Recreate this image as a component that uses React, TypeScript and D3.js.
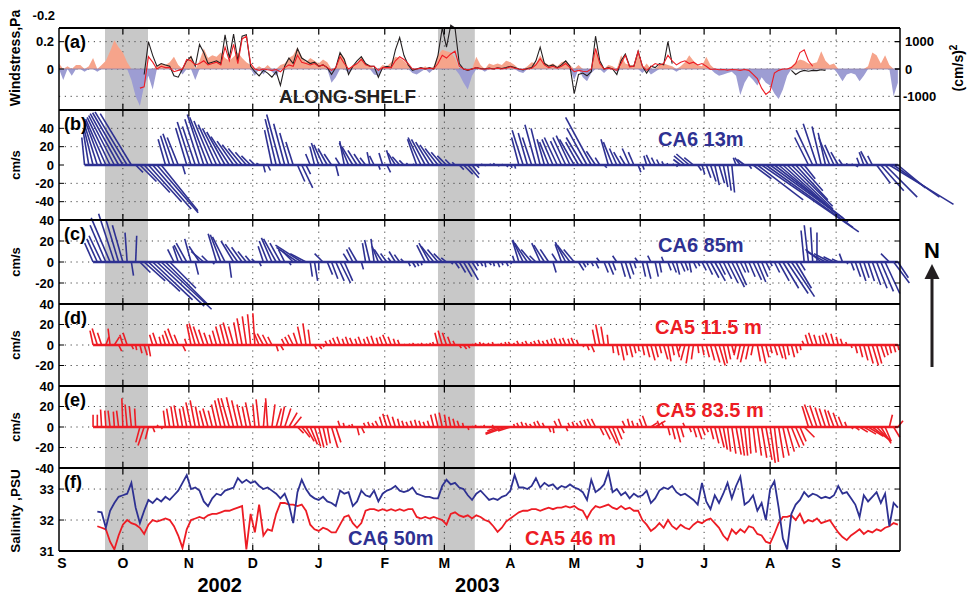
import React from 'react';
import * as d3 from 'd3';

// ---- data (days since 1 Sep 2002, sampled every 2 days) ----
const monthLabels = ['S', 'O', 'N', 'D', 'J', 'F', 'M', 'A', 'M', 'J', 'J', 'A', 'S'];
const yearLabels: [string, number][] = [['2002', 75.5], ['2003', 196.5]];
const shadeSpans: [number, number][] = [[21.6, 41.8], [178, 195.3]];

// (a) along-shelf wind stress, Pa (from day 0)
const windStress = [
  0.04, -0.08, 0.02, -0.05, 0.03, 0.03, -0.02, 0.02, 0.08, -0.02,
  0.03, 0.06, 0.13, 0.21, 0.16, 0.12, 0.05, -0.08, -0.2, -0.27,
  -0.12, -0.05, -0.15, 0.02, 0.04, 0.03, 0.05, 0.09, 0.03, -0.04,
  0.05, 0.1, -0.08, 0.06, 0.15, 0.08, 0.1, 0.09, 0.12, 0.08,
  0.06, 0.09, 0.12, 0.08, 0.05, 0.03, -0.05, 0.02, -0.04, 0.03,
  -0.02, -0.05, 0.03, 0.04, 0.08, 0.1, 0.16, 0.09, 0.05, 0.08,
  0.06, 0.04, 0.07, 0.05, -0.1, -0.06, 0.12, 0.08, -0.03, 0.03,
  0.04, 0.09, 0.04, 0.03, -0.04, -0.05, 0.03, 0.02, 0.05, 0.09,
  0.08, 0.06, 0.03, -0.03, -0.04, -0.02, 0.02, -0.03, 0.02, 0.1,
  0.14, 0.13, 0.12, 0.08, -0.04, -0.1, -0.15, -0.05, 0.09, 0.03,
  -0.02, 0.04, 0.03, 0.04, 0.03, 0.06, 0.05, 0.03, -0.02, -0.03,
  0.02, 0.05, 0.04, 0.1, 0.05, 0.03, 0.04, 0.02, 0.05, 0.06,
  0.03, -0.08, 0.03, -0.06, -0.09, -0.03, 0.15, 0.06, -0.03, 0.03,
  0.02, -0.02, 0.1, 0.04, 0.03, 0.03, 0.11, -0.03, 0.04, -0.04,
  -0.02, 0.03, 0.04, 0.03, 0.02, -0.02, 0.02, 0.05, 0.1, 0.06,
  0.03, 0.02, 0.09, 0.03, -0.03, -0.05, -0.04, -0.03, -0.02, -0.05,
  -0.19, -0.1, -0.05, -0.08, -0.12, -0.06, -0.1, -0.12, -0.18, -0.22,
  -0.15, -0.05, 0.02, 0.05, 0.07, 0.06, 0.04, 0.04, 0.05, 0.13,
  0.06, 0.03, 0.04, -0.04, -0.09, -0.04, -0.03, -0.04, -0.09, -0.05,
  0.02, 0.12, 0.1, 0.04, 0.1, 0.03, -0.2, -0.1,
];

// (a) black line, (cm/s)^2 (from day 40)
const blackStress: (number | null)[] = [
  -200, 1000, 500, 100, 200, 150, 100, -250, -300, 0,
  300, 450, 100, 900, 600, 200, 250, 300, 200, 1250,
  400, 1280, 300, 1200, 1250, 100, -100, -250, -50, -150,
  -300, -100, -600, 100, 400, 200, 750, 400, 300, 200,
  250, 100, 150, 50, -200, 50, 600, 350, -200, 100,
  300, 450, 200, 100, 100, -300, 50, 100, 50, 700,
  1150, 500, 150, -50, 0, 50, 0, 50, 0, 500,
  1500, 800, 1600, 1500, 200, 0, -50, 0, 50, 20,
  0, 30, 0, 40, 20, 50, 100, 50, 0, -30,
  20, 50, 300, 800, 200, 100, 150, 50, 150, 300,
  100, -900, -200, -150, -250, -100, 1200, 300, 0, 50,
  0, -200, 300, 550, 100, 100, 650, 100, -150, 100,
  50, 200, 150, 1000, 200, null, null, null, null, null,
  null, null, null, null, null, null, null, null, null, null,
  null, null, null, null, null, null, null, null, null, null,
  null, null, -50, -200, -100, -50, -80, -50, -60, -30,
  -50,
];

// (a) red line, (cm/s)^2 (from day 38)
const redStress = [
  -700, -650, 450, 250, 0, 100, 50, 50, -100, -50,
  0, 350, 300, 150, 200, 300, 150, 200, 250, 150,
  800, 300, 900, 200, 1100, 1200, 200, 0, -50, 0,
  -30, -50, -20, -100, 50, 150, 100, 500, 250, 200,
  150, 200, 100, 150, 50, -50, 50, 450, 200, 0,
  100, 200, 350, 150, 100, 100, -50, 50, 50, 50,
  300, 450, 350, 200, 0, 0, 30, 0, 30, 0,
  200, 500, 400, 550, 650, 100, 0, -30, 0, 50,
  0, 0, 20, 0, 30, 0, 30, 80, 30, 0,
  -20, 0, 30, 150, 380, 150, 50, 100, 30, 100,
  200, 50, -100, -50, -80, -100, 0, 750, 200, 0,
  30, 0, -50, 200, 500, 80, 100, 650, 100, -50,
  80, 200, 150, 200, 500, 300, 150, 250, 300, 200,
  250, 150, 200, 100, -20, 0, -30, -20, -40, -20,
  -30, -50, -20, -50, -200, -350, -700, -930, -800, -150,
  -50, 0, 0, 50, 200, 600, 700, 300, 100,
];

// (b) CA6 13m, [east, north] cm/s (from day 12)
const ca6_13m: [number, number][] = [
  [-3, 30], [-6, 36], [-10, 40], [-14, 44], [-18, 48], [-22, 50], [-25, 52], [-28, 54], [-31, 56], [-33, 57],
  [-35, 58], [-34, 56], [8, -8], [18, -18], [28, -30], [36, -40], [42, -48], [45, -52], [40, -50], [-8, 28],
  [-10, 32], [-12, 34], [-12, 30], [3, -10], [-12, 40], [-15, 47], [-14, 42], [-16, 50], [-18, 55], [-20, 52],
  [-20, 48], [-20, 44], [-20, 40], [-20, 36], [-20, 31], [-18, 26], [-17, 22], [-15, 18], [-12, 14], [-10, 10],
  [-6, 6], [-3, 2], [2, -8], [3, -6], [-8, 38], [-12, 50], [-15, 55], [-12, 45], [-10, 35], [-8, 25],
  [8, -18], [12, -25], [5, -10], [-5, 12], [-5, 20], [-8, 24], [-10, 22], [-10, 18], [-8, 12], [3, -12],
  [-5, 8], [-5, 26], [-10, 24], [-12, 20], [-10, 16], [-8, 12], [-6, 8], [-3, 14], [-5, 10], [2, -5],
  [-4, 13], [4, -8], [-5, 16], [-8, 13], [-8, 9], [-5, 5], [-2, 2], [2, 1], [-10, 28], [-14, 30],
  [-15, 28], [-15, 25], [-15, 22], [-14, 18], [-12, 14], [-10, 10], [-6, 6], [-3, 3], [5, -5], [10, -10],
  [12, -14], [8, -10], [3, -3], [2, 1], [1, -1], [2, 1], [1, 2], [2, -1], [1, 1], [2, -2],
  [2, -3], [1, -4], [-8, 30], [-12, 38], [-10, 35], [-10, 30], [-12, 44], [-10, 40], [-8, 28], [-10, 25],
  [-12, 28], [-14, 30], [-12, 26], [-14, 30], [-15, 32], [-16, 28], [-14, 25], [-18, 30], [-22, 40], [-28, 52],
  [-10, 15], [-5, 8], [3, -3], [-8, 28], [-10, 25], [-8, 18], [-8, 14], [-6, 10], [-8, 18], [-6, 14],
  [3, -8], [2, -5], [-3, 10], [-5, 11], [-4, 8], [-3, 6], [-2, 4], [-1, 2], [2, 1], [1, -2],
  [-8, 6], [-12, 10], [-14, 12], [-10, 8], [4, -6], [3, -10], [5, -14], [6, -18], [5, -22], [6, -20],
  [5, -24], [4, -28], [3, -30], [-3, 8], [-6, 8], [-8, 6], [3, -4], [20, -15], [50, -38], [106, -73],
  [95, -68], [85, -62], [75, -58], [65, -55], [55, -50], [50, -48], [45, -45], [35, -38], [25, -28], [12, -15],
  [-15, 30], [-18, 38], [-15, 45], [-10, 42], [-8, 35], [-12, 30], [-10, 22], [-8, 14], [-4, 6], [0, 2],
  [2, 1], [3, -2], [-3, 8], [-5, 14], [-8, 15], [-5, 10], [15, -20], [25, -28], [35, -35], [70, -43],
  [50, -35], [30, -25],
];

// (c) CA6 85m (from day 16)
const ca6_85m: [number, number][] = [
  [-8, 18], [-10, 22], [-12, 25], [-15, 35], [-18, 42], [-15, 46], [-12, 40], [-10, 35], [-2, 28], [2, -13],
  [1, 25], [10, -10], [20, -18], [30, -28], [38, -36], [45, -42], [48, -45], [40, -40], [25, -25], [-6, 12],
  [-5, 15], [-8, 16], [-10, 18], [-6, 22], [3, -12], [-10, 15], [-12, 10], [-6, 6], [2, -2], [-8, 27],
  [-10, 26], [-12, 24], [2, -15], [-12, 20], [-12, 17], [-10, 14], [-8, 10], [-5, 6], [-3, 3], [2, -4],
  [-5, 15], [-8, 20], [-10, 23], [-12, 22], [-10, 18], [-6, 12], [2, -3], [-10, 10], [-20, 14], [-25, 16],
  [-15, 8], [2, -14], [3, -18], [0, -8], [-8, 8], [5, -12], [6, -16], [8, -18], [10, -20], [8, -18],
  [-5, 8], [-6, 12], [-8, 14], [2, -7], [-3, 18], [-5, 21], [-3, 22], [-6, 15], [-8, 12], [-6, 8],
  [-3, 4], [-6, 10], [-5, 7], [-3, 3], [2, -4], [3, -5], [2, -4], [1, -3], [-8, 16], [-10, 18],
  [-12, 15], [-10, 12], [-8, 8], [-5, 4], [2, -2], [4, -6], [6, -10], [8, -14], [10, -17], [5, -8],
  [2, -4], [2, -4], [1, -5], [2, -3], [1, -4], [2, -5], [1, -3], [2, -4], [1, -2], [-2, 6],
  [-6, 20], [-10, 21], [-12, 18], [-10, 12], [-6, 6], [-8, 18], [-10, 16], [-8, 12], [3, -10], [-5, 8],
  [-6, 17], [-10, 19], [-12, 16], [-10, 12], [5, -8], [3, -5], [1, -3], [2, -4], [3, -6], [-3, 4],
  [4, -10], [5, -12], [3, -8], [-4, 6], [4, -14], [5, -16], [4, -12], [2, -6], [-3, 4], [3, -14],
  [4, -16], [-3, 6], [3, -14], [2, -10], [-2, 5], [3, -8], [4, -10], [3, -12], [4, -9], [3, -8],
  [2, -10], [3, -6], [2, -4], [4, -8], [6, -12], [8, -15], [10, -18], [6, -12], [8, -16], [10, -20],
  [12, -24], [10, -22], [5, -10], [4, -10], [6, -14], [8, -17], [8, -19], [6, -14], [4, -8], [2, -4],
  [5, -10], [10, -18], [15, -25], [20, -30], [22, -33], [15, -25], [5, -8], [-3, 30], [-4, 35], [-2, 33],
  [0, 28], [-15, 12], [-18, 10], [-15, 8], [-10, 5], [-6, 3], [-3, 8], [1, -2], [3, -8], [5, -14],
  [6, -18], [5, -15], [6, -18], [8, -22], [10, -25], [12, -28], [14, -30], [-8, 8], [15, -20], [10, -15],
];

// (d) CA5 11.5 m (from day 16)
const ca5_11m: [number, number][] = [
  [-3, 14], [-5, 16], [-4, 12], [3, 8], [-2, 16], [5, 8], [3, -6], [-3, 10], [-4, 12], [2, -4],
  [1, -5], [2, -8], [3, -10], [2, -11], [-3, 10], [-4, 12], [-2, 8], [-3, 10], [-5, 14], [-6, 16],
  [-4, 10], [3, -6], [-2, 6], [-4, 20], [-6, 21], [-6, 18], [-5, 15], [-4, 12], [-3, 10], [-4, 14],
  [-5, 18], [-5, 20], [-6, 22], [-5, 18], [-4, 22], [-5, 26], [-4, 28], [-3, 30], [-2, 31], [-5, 12],
  [-6, 11], [-5, 10], [-4, 8], [2, -6], [3, -5], [-3, 6], [-4, 8], [-5, 10], [-4, 12], [-4, 18],
  [-3, 21], [-2, 15], [2, -4], [3, -4], [1, -2], [-2, 4], [-2, 5], [-3, 7], [-3, 8], [-2, 6],
  [-3, 8], [-3, 7], [-2, 6], [-3, 8], [-2, 6], [-3, 8], [-3, 9], [-2, 7], [-3, 8], [-4, 10],
  [-3, 8], [-2, 6], [-2, 5], [1, 1], [2, 1], [1, 2], [2, 1], [1, 2], [2, 1], [1, 2],
  [-1, 3], [-3, 12], [-4, 14], [-4, 12], [-3, 8], [-2, 4], [2, -3], [3, -4], [2, -3], [1, 1],
  [-1, 2], [-1, 3], [-2, 2], [-1, 2], [-1, 3], [1, 1], [-1, 2], [-1, 3], [-2, 3], [-1, 2],
  [-2, 4], [-1, 3], [-2, 4], [-1, 3], [-2, 4], [-2, 5], [-2, 4], [-2, 5], [-2, 6], [-3, 7],
  [-2, 6], [-3, 7], [-2, 6], [-3, 7], [-2, 5], [1, -2], [2, -5], [3, -7], [-3, 15], [-4, 20],
  [-3, 18], [-1, 10], [1, -8], [2, -10], [3, -15], [2, -10], [3, -12], [2, -8], [1, -6], [2, -10],
  [3, -12], [4, -15], [3, -12], [2, -8], [4, -14], [3, -16], [2, -10], [3, -12], [-2, -6], [-4, -15],
  [-3, -18], [-2, -14], [1, -8], [2, -10], [3, -12], [4, -15], [5, -17], [6, -20], [4, -18], [3, -14],
  [2, -8], [-2, -10], [-3, -14], [-4, -17], [-3, -14], [-2, -10], [3, -16], [4, -18], [3, -12], [2, -8],
  [3, -10], [4, -13], [3, -14], [2, -10], [3, -12], [2, -8], [1, -5], [-2, 4], [-3, 10], [-4, 12],
  [-3, 10], [-2, 9], [-3, 10], [-4, 12], [-3, 11], [-2, 8], [-2, 6], [-1, 3], [1, -3], [2, -8],
  [3, -12], [4, -15], [5, -18], [6, -20], [5, -18], [4, -12], [3, -10], [2, -8], [2, -7], [1, -5],
];

// (e) CA5 83.5 m (from day 16)
const ca5_83m: [number, number][] = [
  [0, 12], [0, 12], [-1, 17], [-1, 16], [-2, 16], [-1, 15], [-2, 16], [-1, 28], [-2, 22], [-2, 20],
  [-1, 18], [-4, -15], [-6, -18], [-3, -12], [2, -5], [1, 2], [1, -2], [-2, 16], [-3, 18], [-3, 20],
  [-4, 21], [-3, 18], [-4, 20], [-5, 24], [-5, 26], [-4, 20], [-4, 16], [-5, 18], [-4, 16], [-5, 22],
  [-6, 26], [-7, 28], [-8, 28], [-7, 29], [-6, 26], [-5, 22], [-4, 20], [-5, 24], [-2, 22], [-3, 27],
  [2, 24], [-2, 28], [3, 22], [5, 18], [4, 20], [6, 18], [8, 14], [8, 10], [6, -6], [8, -10],
  [8, -14], [7, -17], [6, -19], [5, -20], [4, -18], [3, -16], [6, -20], [5, -15], [-2, 6], [-1, 4],
  [1, 2], [-1, 3], [2, -8], [3, -6], [-2, 4], [-2, 5], [-2, 4], [-3, 6], [-3, 10], [-4, 13],
  [-4, 12], [-3, 10], [-2, 8], [-2, 6], [-2, 5], [-2, 6], [-2, 7], [-2, 6], [-2, 5], [-2, 6],
  [-3, 12], [-3, 13], [-3, 14], [-2, 12], [-2, 10], [-2, 8], [-2, 6], [-1, 4], [1, -3], [1, 1],
  [-1, 2], [1, 1], [-1, 2], [1, -1], [-1, 2], [-10, -4], [-16, -6], [-20, -7], [-12, -4], [-1, 3],
  [-2, 4], [-2, 5], [-2, 4], [-2, 3], [-2, 5], [-3, 6], [-2, 4], [2, -5], [1, -6], [-3, 6],
  [-3, 8], [2, -4], [-2, 4], [-2, 5], [-2, 4], [-3, 6], [-3, 7], [-4, 8], [-4, 8], [4, -8],
  [6, -12], [8, -16], [7, -18], [5, -12], [3, -6], [-3, 6], [-2, 8], [-2, 6], [-1, 4], [-3, 8],
  [-4, 11], [6, 4], [10, 6], [-2, 6], [-2, 5], [2, -8], [3, -12], [4, -15], [3, -10], [-2, 4],
  [2, -5], [3, -10], [4, -12], [3, -8], [2, -5], [3, -12], [4, -16], [5, -20], [4, -22], [3, -24],
  [4, -26], [5, -27], [4, -28], [3, -28], [2, -26], [3, -25], [4, -28], [5, -30], [6, -32], [5, -35],
  [4, -34], [5, -30], [6, -28], [7, -24], [8, -20], [8, -18], [6, -14], [10, -10], [-6, 20], [-8, 22],
  [-7, 21], [-6, 19], [-6, 18], [-5, 17], [-6, 16], [-5, 14], [-4, 10], [-2, 5], [2, -2], [4, -3],
  [8, -5], [12, -7], [15, -9], [16, -12], [14, -14], [10, -16], [6, -14], [3, 12], [6, -10], [5, 6],
];

// (f) salinity, PSU (from day 18)
const salCA6_50m = [
  32.27, 32.25, 31.75, 32.3, 32.55, 32.75, 32.8, 32.85, 33.2, 32.4,
  31.9, 32.3, 32.65, 32.55, 32.7, 32.6, 32.75, 32.65, 32.8, 32.95,
  33.2, 33.45, 33.0, 33.05, 32.95, 32.6, 32.45, 32.7, 32.85, 32.8,
  32.95, 33.0, 33.05, 33.35, 33.2, 33.3, 33.2, 33.25, 33.1, 33.0,
  33.05, 32.95, 32.85, 32.7, 32.85, 32.5, 31.9, 32.9, 33.3, 33.0,
  32.8, 32.7, 32.65, 32.75, 32.6, 32.55, 32.45, 32.95, 32.85, 32.9,
  32.45, 32.6, 32.95, 32.8, 32.75, 32.95, 32.6, 32.85, 32.95, 33.0,
  33.1, 32.95, 32.9, 32.95, 33.05, 32.85, 32.8, 32.75, 32.75, 32.7,
  32.7, 33.1, 33.3, 33.15, 33.2, 33.05, 33.0, 32.8, 32.65, 32.85,
  32.95, 32.8, 32.65, 32.7, 32.65, 32.75, 32.8, 32.95, 33.45, 33.05,
  33.05, 33.0, 33.1, 33.35, 33.05, 33.2, 33.1, 33.15, 33.0, 33.1,
  33.05, 33.15, 33.05, 33.0, 32.9, 32.65, 33.3, 32.9, 33.0, 33.15,
  33.55, 32.9, 33.0, 32.8, 32.9, 32.7, 32.85, 32.75, 32.8, 32.95,
  32.55, 32.7, 32.95, 33.05, 33.0, 33.1, 32.9, 32.8, 32.85, 32.75,
  32.65, 32.5, 33.2, 32.6, 32.35, 32.8, 32.55, 32.85, 33.2, 32.7,
  33.1, 33.4, 32.5, 32.6, 32.8, 32.3, 32.55, 32.0, 33.0, 33.25,
  32.4, 31.4, 31.05, 32.2, 32.5, 32.65, 32.9, 32.75, 32.85, 32.8,
  32.7, 32.75, 32.7, 32.8, 33.1, 32.85, 32.9, 32.7, 32.5, 32.1,
  32.8, 32.6, 32.75, 32.9, 32.55, 32.85, 31.8, 32.55, 32.4,
];

const salCA5_46m = [
  31.8, 31.75, 31.7, 31.3, 31.05, 31.5, 31.85, 32.0, 31.9, 31.85,
  31.75, 31.55, 31.85, 32.0, 31.95, 32.0, 32.05, 32.0, 31.8, 31.5,
  31.1, 31.7, 32.0, 32.05, 32.1, 32.05, 32.15, 32.2, 32.2, 32.25,
  32.3, 32.3, 32.35, 32.4, 32.45, 31.05, 32.2, 31.6, 32.5, 31.5,
  31.7, 31.65, 32.2, 32.55, 32.55, 32.5, 32.5, 32.45, 32.5, 32.3,
  31.85, 31.7, 31.65, 31.75, 31.7, 31.6, 31.6, 31.85, 32.1, 32.15,
  31.9, 31.75, 31.9, 32.3, 32.35, 32.35, 32.3, 32.35, 32.3, 32.35,
  32.3, 32.35, 32.3, 32.35, 32.35, 32.1, 32.05, 32.1, 32.05, 32.1,
  32.05, 32.0, 31.85, 32.2, 32.25, 32.15, 32.1, 32.15, 32.05, 32.15,
  32.1, 32.0, 31.95, 31.8, 31.62, 31.75, 31.95, 32.05, 32.15, 32.25,
  32.3, 32.3, 32.35, 32.35, 32.3, 32.35, 32.4, 32.35, 32.4, 32.4,
  32.45, 32.4, 32.45, 32.35, 32.3, 32.05, 32.3, 32.45, 32.4, 32.45,
  32.5, 32.4, 32.35, 32.45, 32.35, 32.4, 32.3, 32.3, 32.0, 31.85,
  31.65, 31.75, 31.9, 31.75, 32.0, 31.8, 31.7, 31.85, 31.75, 31.7,
  31.85, 31.95, 31.9, 32.0, 32.05, 31.9, 31.75, 31.5, 31.35, 31.7,
  31.55, 31.7, 31.6, 31.8, 31.75, 31.55, 31.5, 31.3, 31.25, 31.55,
  31.9, 32.1, 32.1, 32.15, 32.0, 32.2, 31.9, 32.0, 31.95, 32.05,
  31.9, 31.95, 32.0, 31.8, 31.6, 31.45, 31.35, 31.5, 31.6, 31.7,
  31.55, 31.65, 31.6, 31.7, 31.65, 31.75, 31.8, 31.9, 31.85,
];

const windTicks = [0.2, 0];
const windGrid = [-0.2, 0, 0.2];
const reynoldsTicks = [1000, 0, -1000];
const ticksB = [40, 20, 0, -20, -40];
const ticksCD = [40, 20, 0, -20];
const ticksE = [40, 20, 0, -20, -40];
const ticksF = [33, 32, 31];

// ---- layout ----
const NAVY = '#2E3192';
const RED = '#ED1C24';
const FONT = '"Liberation Sans", Arial, Helvetica, sans-serif';
const X0 = 59;
const X1 = 900;
const START = Date.UTC(2002, 8, 1);
const END = Date.UTC(2003, 9, 1);
const DAY = 86400000;
const dd = (d: number) => new Date(START + d * DAY);

const x = d3.scaleUtc().domain([new Date(START), new Date(END)]).range([X0, X1]);

const yA = d3.scaleLinear().domain([-0.3, 0.3]).range([110, 28]);
const yA2 = d3.scaleLinear().domain([-1500, 1500]).range([110, 28]);
const yB = d3.scaleLinear().domain([-60, 60]).range([220, 110]);
const yC = d3.scaleLinear().domain([-40, 40]).range([304, 220]);
const yD = d3.scaleLinear().domain([-40, 40]).range([386, 304]);
const yE = d3.scaleLinear().domain([-40, 40]).range([468, 386]);
const yF = d3.scaleLinear().domain([31, 33.68]).range([551, 468]);

const panelEdges = [28, 110, 220, 304, 386, 468, 551];
const months = d3.utcMonth.range(new Date(START), new Date(END));

const gridStyle = { stroke: '#444', strokeWidth: 1, strokeDasharray: '1.2 4.6' };

function Sticks({ data, start, y, color }: { data: [number, number][]; start: number; y: d3.ScaleLinear<number, number>; color: string }) {
  const y0 = y(0);
  const k = y(0) - y(1);
  const xs = x(dd(start));
  const xe = x(dd(start + (data.length - 1) * 2));
  return (
    <g stroke={color} strokeWidth={1.6} strokeLinecap="butt">
      <line x1={xs} x2={xe} y1={y0} y2={y0} strokeWidth={2.4} />
      {data.map(([u, v], i) => {
        const xx = x(dd(start + i * 2));
        return <line key={i} x1={xx} y1={y0} x2={xx + u * k} y2={y0 - v * k} />;
      })}
    </g>
  );
}

function LeftTicks({ ticks, y, fmt }: { ticks: number[]; y: d3.ScaleLinear<number, number>; fmt?: (v: number) => string }) {
  return (
    <g>
      {ticks.map((t) => (
        <g key={t}>
          <line x1={X0} x2={X0 + 5} y1={y(t)} y2={y(t)} stroke="#000" strokeWidth={1} />
          <line x1={X1 - 5} x2={X1} y1={y(t)} y2={y(t)} stroke="#000" strokeWidth={1} />
          <text x={54} y={y(t)} dy="0.36em" textAnchor="end" fontSize={13} fontWeight="bold">
            {fmt ? fmt(t) : String(t)}
          </text>
        </g>
      ))}
    </g>
  );
}

function HGrid({ values, y }: { values: number[]; y: d3.ScaleLinear<number, number> }) {
  return (
    <g>
      {values.map((v) => (
        <line key={v} x1={X0} x2={X1} y1={y(v)} y2={y(v)} {...gridStyle} />
      ))}
    </g>
  );
}

export default function App() {
  const panelPairs = panelEdges.slice(0, -1).map((top, i) => [top, panelEdges[i + 1]]);

  const areaPos = d3.area<number>()
    .x((_, i) => x(dd(i * 2)))
    .y0(yA(0))
    .y1((v) => yA(Math.max(0, v)));
  const areaNeg = d3.area<number>()
    .x((_, i) => x(dd(i * 2)))
    .y0(yA(0))
    .y1((v) => yA(Math.min(0, v)));

  const blackLine = d3.line<number | null>()
    .defined((v) => v !== null)
    .x((_, i) => x(dd(40 + i * 2)))
    .y((v) => yA2(v as number));
  const redLine = d3.line<number>()
    .x((_, i) => x(dd(38 + i * 2)))
    .y((v) => yA2(v));

  const salLine = d3.line<number>()
    .x((_, i) => x(dd(18 + i * 2)))
    .y((v) => yF(v));

  return (
    <svg width={970} height={595} style={{ position: 'absolute', left: 0, top: 0, background: '#fff' }} fontFamily={FONT}>
      <rect x={0} y={0} width={970} height={595} fill="#fff" />

      {/* shaded periods */}
      {shadeSpans.map(([a, b], i) => (
        <rect key={i} x={x(dd(a))} y={28} width={x(dd(b)) - x(dd(a))} height={551 - 28} fill="#C8C8C8" />
      ))}

      {/* vertical month grid */}
      {panelPairs.map(([t, b], pi) =>
        months.slice(1).map((m, i) => (
          <line key={`${pi}-${i}`} x1={x(m)} x2={x(m)} y1={t} y2={b} {...gridStyle} />
        ))
      )}

      {/* horizontal grid */}
      <HGrid values={windGrid} y={yA} />
      <HGrid values={[40, 20, -20, -40]} y={yB} />
      <HGrid values={[20, 0, -20]} y={yC} />
      <HGrid values={[20, 0, -20]} y={yD} />
      <HGrid values={[20, 0, -20]} y={yE} />
      <HGrid values={[33, 32]} y={yF} />

      {/* (a) wind stress */}
      <path d={areaPos(windStress) || ''} fill="#F6A48B" />
      <path d={areaNeg(windStress) || ''} fill="#9D9DD3" />
      <line x1={X0} x2={X1} y1={yA(0)} y2={yA(0)} stroke="#8A7FA8" strokeWidth={0.8} />
      <path d={blackLine(blackStress) || ''} fill="none" stroke="#231F20" strokeWidth={1.1} />
      <path d={redLine(redStress) || ''} fill="none" stroke={RED} strokeWidth={1.1} />

      {/* (b)-(e) stick plots */}
      <Sticks data={ca6_13m} start={12} y={yB} color={NAVY} />
      <Sticks data={ca6_85m} start={16} y={yC} color={NAVY} />
      <Sticks data={ca5_11m} start={16} y={yD} color={RED} />
      <Sticks data={ca5_83m} start={16} y={yE} color={RED} />

      {/* (f) salinity */}
      <path d={salLine(salCA5_46m) || ''} fill="none" stroke={RED} strokeWidth={1.8} />
      <path d={salLine(salCA6_50m) || ''} fill="none" stroke={NAVY} strokeWidth={1.8} />

      {/* frames */}
      {panelEdges.map((e) => (
        <line key={e} x1={X0} x2={X1} y1={e} y2={e} stroke="#000" strokeWidth={2} />
      ))}
      <line x1={X0} x2={X0} y1={28} y2={551} stroke="#000" strokeWidth={1.5} />
      <line x1={X1} x2={X1} y1={28} y2={551} stroke="#000" strokeWidth={1.5} />

      {/* month ticks */}
      {panelPairs.map(([t, b], pi) =>
        months.slice(1).map((m, i) => (
          <g key={`t${pi}-${i}`} stroke="#000" strokeWidth={1.2}>
            <line x1={x(m)} x2={x(m)} y1={t} y2={t + 6} />
            <line x1={x(m)} x2={x(m)} y1={b - 6} y2={b} />
          </g>
        ))
      )}

      {/* y axes */}
      <LeftTicks ticks={windTicks} y={yA} />
      <text x={55} y={20} textAnchor="end" fontSize={13} fontWeight="bold">-0.2</text>
      {reynoldsTicks.map((t) => (
        <g key={t}>
          <line x1={X1 - 5} x2={X1} y1={yA2(t)} y2={yA2(t)} stroke="#000" />
          <text x={t < 0 ? 903 : 905} y={yA2(t)} dy="0.36em" fontSize={13} fontWeight="bold">{t}</text>
        </g>
      ))}
      <LeftTicks ticks={ticksB} y={yB} />
      <LeftTicks ticks={ticksCD} y={yC} />
      <LeftTicks ticks={ticksCD} y={yD} />
      <LeftTicks ticks={ticksE} y={yE} />
      <LeftTicks ticks={ticksF} y={yF} />

      {/* axis titles */}
      <text transform="translate(20,58) rotate(-90)" textAnchor="middle" fontSize={14} fontWeight="bold">Windstress,Pa</text>
      {[yB, yC, yD, yE].map((s, i) => (
        <text key={i} transform={`translate(20,${s(0)}) rotate(-90)`} textAnchor="middle" fontSize={13} fontWeight="bold">cm/s</text>
      ))}
      <text transform="translate(20,511) rotate(-90)" textAnchor="middle" fontSize={13.5} fontWeight="bold">Salinity ,PSU</text>
      <text transform="translate(963,68) rotate(-90)" textAnchor="middle" fontSize={14} fontWeight="bold">
        (cm/s)<tspan dy="-6" fontSize={10}>2</tspan>
      </text>

      {/* panel letters */}
      {['(a)', '(b)', '(c)', '(d)', '(e)', '(f)'].map((l, i) => (
        <text key={l} x={64} y={panelEdges[i] + 19.5} fontSize={18} fontWeight="bold">{l}</text>
      ))}

      {/* month and year labels */}
      {months.map((m, i) => (
        <text key={i} x={x(m) + (i === 0 ? 3 : 0)} y={568} textAnchor="middle" fontSize={14} fontWeight="bold">{monthLabels[i]}</text>
      ))}
      {yearLabels.map(([label, d]) => (
        <text key={label} x={x(dd(d))} y={592} textAnchor="middle" fontSize={20} fontWeight="bold">{label}</text>
      ))}

      {/* series labels */}
      <text x={279} y={103} fontSize={19} fontWeight="bold" fill="#231F20">ALONG-SHELF</text>
      <text x={658} y={146} fontSize={20} fontWeight="bold" fill={NAVY}>CA6 13m</text>
      <text x={658} y={252} fontSize={20} fontWeight="bold" fill={NAVY}>CA6 85m</text>
      <text x={655} y={334} fontSize={20} fontWeight="bold" fill={RED}>CA5 11.5 m</text>
      <text x={656} y={417} fontSize={20} fontWeight="bold" fill={RED}>CA5 83.5 m</text>
      <text x={348} y={545} fontSize={20} fontWeight="bold" fill={NAVY}>CA6 50m</text>
      <text x={525} y={545} fontSize={20} fontWeight="bold" fill={RED}>CA5 46 m</text>

      {/* north arrow */}
      <text x={932} y={258} textAnchor="middle" fontSize={22} fontWeight="bold">N</text>
      <line x1={932} x2={932} y1={367} y2={276} stroke="#231F20" strokeWidth={3} />
      <polygon points="924.5,279 939.5,279 932,264" fill="#231F20" />
    </svg>
  );
}
